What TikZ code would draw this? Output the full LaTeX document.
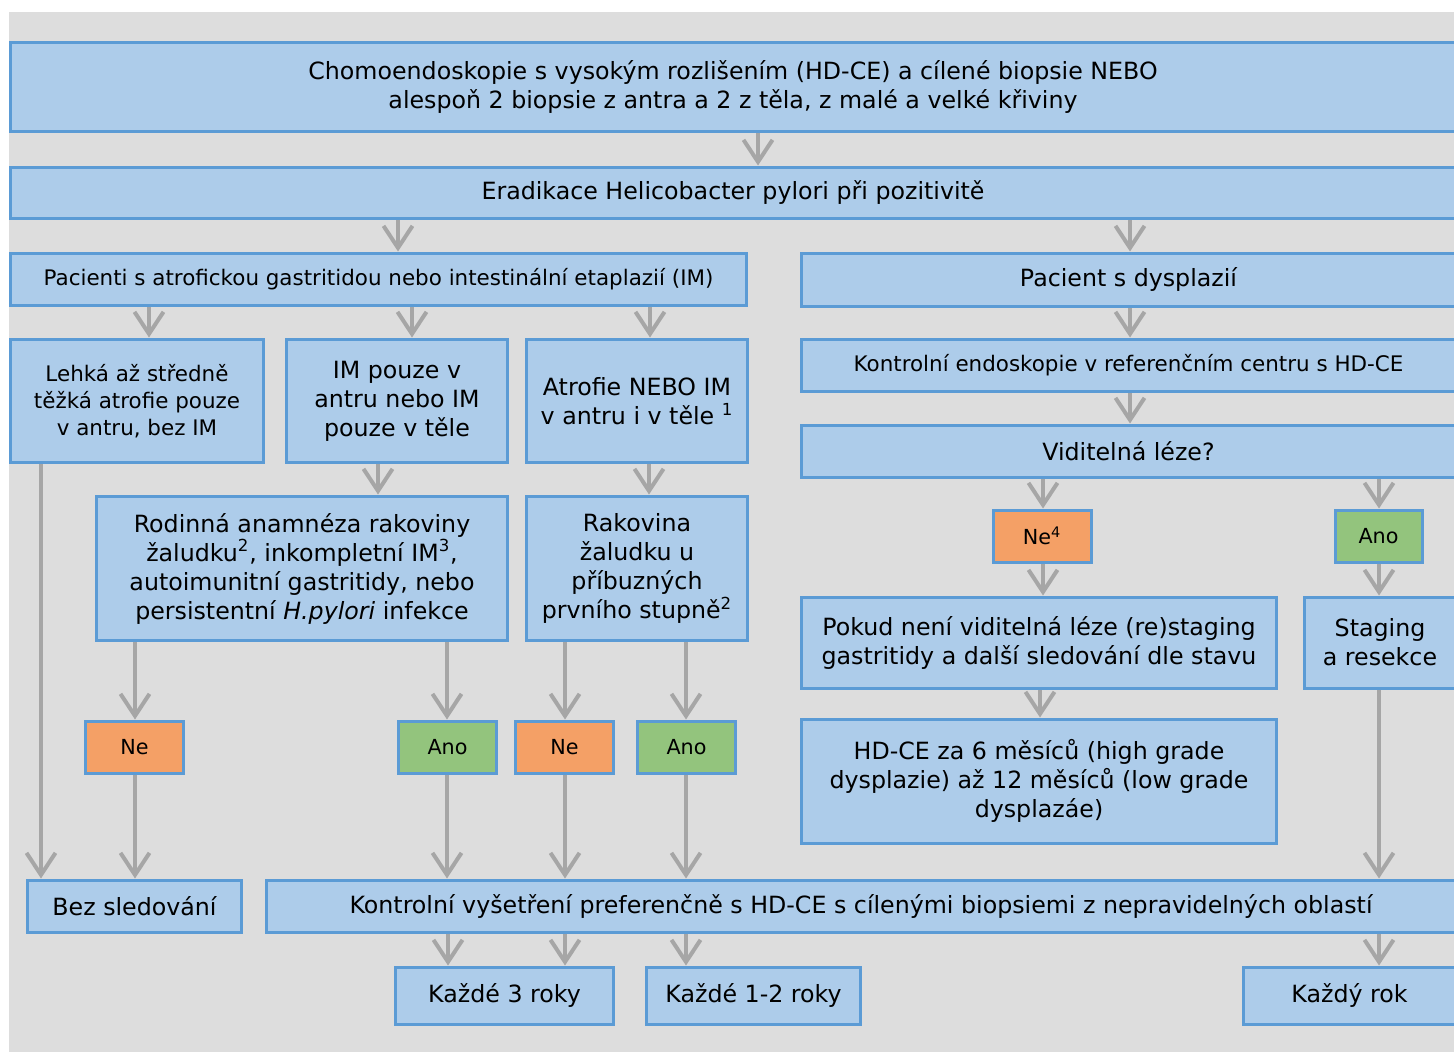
\documentclass[tikz,border=0pt]{standalone}
\usepackage{fontspec}
\setmainfont{DejaVu Sans}
\usetikzlibrary{arrows.meta}
\definecolor{bggray}{RGB}{221,221,221}
\definecolor{boxfill}{RGB}{173,204,234}
\definecolor{boxline}{RGB}{91,155,213}
\definecolor{nefill}{RGB}{244,160,102}
\definecolor{anofill}{RGB}{147,196,125}
\definecolor{arrgray}{RGB}{166,166,166}
\tikzset{
	box/.style={draw=boxline,fill=boxfill,line width=0.06cm,align=center,inner sep=0pt,
		font=\fontsize{13.5}{16.5}\selectfont},
	smallbox/.style={box,font=\fontsize{12.2}{15.4}\selectfont},
	nebox/.style={box,fill=nefill,font=\fontsize{11.8}{14}\selectfont},
	anobox/.style={nebox,fill=anofill},
	arr/.style={draw=arrgray,line width=0.08cm,-{Straight Barb[length=0.44cm,width=0.58cm]}}
}
\begin{document}
\begin{tikzpicture}[x=0.02cm,y=-0.02cm]
%%% page and background
\clip (0,0) rectangle (1454,1052);
\fill[white] (0,0) rectangle (1454,1052);
\fill[bggray] (9,12) rectangle (1454,1052);
%%% top boxes
\node[box,minimum width=28.92cm,minimum height=1.8cm] (top) at (733,87)
	{Chomoendoskopie s vysokým rozlišením (HD-CE) a cílené biopsie NEBO\\alespoň 2 biopsie z antra a 2 z těla, z malé a velké křiviny};
\node[box,minimum width=28.92cm,minimum height=1.02cm] (erad) at (733,192.5)
	{Eradikace Helicobacter pylori při pozitivitě};
%%% left branch
\node[smallbox,minimum width=14.74cm,minimum height=1.04cm] (pac) at (378.5,279)
	{Pacienti s atrofickou gastritidou nebo intestinální etaplazií (IM)};
\node[smallbox,minimum width=5.08cm,minimum height=2.48cm] (lehka) at (137,401)
	{Lehká až středně\\těžká atrofie pouze\\v antru, bez IM};
\node[box,minimum width=4.44cm,minimum height=2.48cm] (impouze) at (397,401)
	{IM pouze v\\antru nebo IM\\pouze v těle};
\node[box,minimum width=4.44cm,minimum height=2.48cm] (atrof) at (637,401)
	{Atrofie NEBO IM\\v antru i v těle \textsuperscript{1}};
\node[box,minimum width=8.24cm,minimum height=2.9cm] (rodin) at (302,568.5)
	{Rodinná anamnéza rakoviny\\žaludku\textsuperscript{2}, inkompletní IM\textsuperscript{3},\\autoimunitní gastritidy, nebo\\persistentní \textit{H.pylori} infekce};
\node[box,minimum width=4.44cm,minimum height=2.9cm] (rakov) at (637,568.5)
	{Rakovina\\žaludku u\\příbuzných\\prvního stupně\textsuperscript{2}};
\node[nebox,minimum width=1.98cm,minimum height=1.04cm] (ne1) at (134.5,747) {Ne};
\node[anobox,minimum width=1.98cm,minimum height=1.04cm] (ano1) at (447.5,747) {Ano};
\node[nebox,minimum width=1.98cm,minimum height=1.04cm] (ne2) at (564.5,747) {Ne};
\node[anobox,minimum width=1.98cm,minimum height=1.04cm] (ano2) at (686.5,747) {Ano};
%%% right branch
\node[box,minimum width=13.1cm,minimum height=1.06cm] (dys) at (1128.5,279.5) {Pacient s dysplazií};
\node[smallbox,minimum width=13.1cm,minimum height=1.04cm] (kendo) at (1128.5,365)
	{Kontrolní endoskopie v referenčním centru s HD-CE};
\node[box,minimum width=13.1cm,minimum height=1.04cm] (vid) at (1128.5,451) {Viditelná léze?};
\node[nebox,minimum width=1.96cm,minimum height=1.04cm] (ne4) at (1042,536) {Ne\textsuperscript{4}};
\node[anobox,minimum width=1.74cm,minimum height=1.04cm] (ano3) at (1378.5,536) {Ano};
\node[box,minimum width=9.52cm,minimum height=1.82cm] (pokud) at (1039,642.5)
	{Pokud není viditelná léze (re)staging\\gastritidy a další sledování dle stavu};
\node[box,minimum width=3.04cm,minimum height=1.82cm] (stag) at (1380,642.5) {Staging\\a resekce};
\node[box,minimum width=9.52cm,minimum height=2.48cm] (hdce) at (1039,781)
	{HD-CE za 6 měsíců (high grade\\dysplazie) až 12 měsíců (low grade\\dysplazáe)};
%%% bottom rows
\node[box,minimum width=4.3cm,minimum height=1.04cm] (bez) at (134.5,906) {Bez sledování};
\node[box,minimum width=23.8cm,minimum height=1.04cm] (kontr) at (861,906)
	{Kontrolní vyšetření preferenčně s HD-CE s cílenými biopsiemi z nepravidelných oblastí};
\node[box,minimum width=4.38cm,minimum height=1.14cm] (k3) at (504.5,995.5) {Každé 3 roky};
\node[box,minimum width=4.3cm,minimum height=1.14cm] (k12) at (753.5,995.5) {Každé 1-2 roky};
\node[box,minimum width=4.26cm,minimum height=1.14cm] (k1) at (1349.5,995.5) {Každý rok};
%%% connectors (from / to / x)
\foreach \a/\b/\x in {top/erad/758, erad/pac/398, erad/dys/1130,
	pac/lehka/149, pac/impouze/412, pac/atrof/650,
	impouze/rodin/378, atrof/rakov/649,
	rodin/ne1/135, rodin/ano1/447, rakov/ne2/565, rakov/ano2/686,
	lehka/bez/41, ne1/bez/135, ano1/kontr/447, ne2/kontr/565, ano2/kontr/686,
	kontr/k3/448, kontr/k3/565, kontr/k12/686,
	dys/kendo/1130, kendo/vid/1130, vid/ne4/1043, vid/ano3/1379,
	ne4/pokud/1043, ano3/stag/1379, pokud/hdce/1040, stag/kontr/1379, kontr/k1/1379}
{
	\draw[arr] (\a.south -| \x,0) -- (\b.north -| \x,0);
}
\end{tikzpicture}
\end{document}
